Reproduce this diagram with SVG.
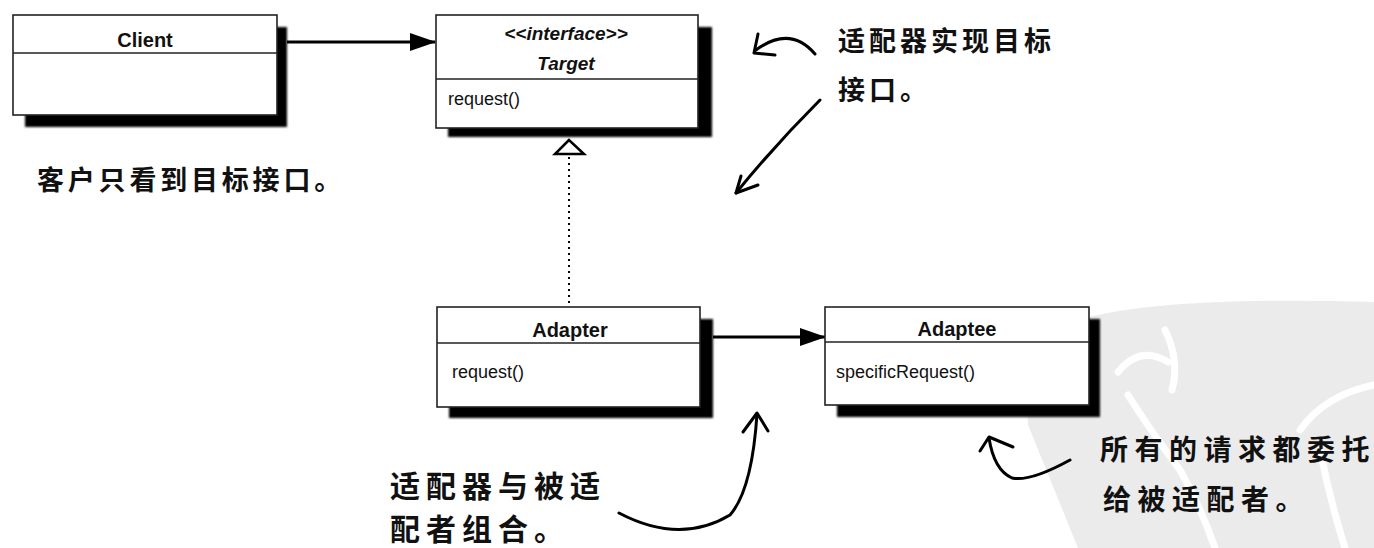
<svg xmlns="http://www.w3.org/2000/svg" width="1374" height="548" viewBox="0 0 1374 548">
<defs>
<style>
.box{fill:#fff;stroke:#222;stroke-width:1.6}
.div{stroke:#222;stroke-width:1.6}
.shadow{fill:#000;filter:url(#blur)}
.name{font-family:"Liberation Sans",Arial,sans-serif;font-weight:bold;font-size:20px;fill:#111;text-anchor:middle}
.iname{font-family:"Liberation Sans",Arial,sans-serif;font-weight:bold;font-style:italic;font-size:19px;fill:#111;text-anchor:middle}
.meth{font-family:"Liberation Sans",Arial,sans-serif;font-size:18px;fill:#111}
.hand{font-family:"Noto Sans CJK SC","Noto Sans CJK TC",sans-serif;font-weight:bold;fill:#111}
.conn{stroke:#000;stroke-width:3;fill:none}
.dot{stroke:#000;stroke-width:2;fill:none;stroke-dasharray:2 4}
.sketch{stroke:#000;stroke-width:3;fill:none;stroke-linecap:round;stroke-linejoin:round}
</style>
<filter id="blur" x="-5%" y="-5%" width="110%" height="110%"><feGaussianBlur stdDeviation="1.2"/></filter>
<marker id="filled" markerWidth="26" markerHeight="18" refX="25" refY="9" orient="auto" markerUnits="userSpaceOnUse"><path d="M0,0 L26,9 L0,18 Z" fill="#000"/></marker>
</defs>
<rect width="1374" height="548" fill="#fff"/>
<g id="watermark">
<path d="M1078,548 L1028,425 Q1022,345 1085,318 Q1170,296 1374,302 L1374,548 Z" fill="#ebebeb"/>
<g stroke="#fff" stroke-width="7" fill="none" stroke-linecap="round">
<path d="M1118,372 Q1140,345 1168,362"/>
<path d="M1128,395 Q1150,430 1180,470 Q1200,505 1215,548"/>
<path d="M1165,330 Q1180,360 1172,390"/>
<path d="M1300,430 Q1325,395 1374,385"/>
<path d="M1320,450 Q1330,500 1345,548"/>
</g>
</g>
<g id="connectors">
<line class="conn" x1="287" y1="42" x2="435" y2="42" marker-end="url(#filled)"/>
<line class="dot" x1="569" y1="157" x2="569" y2="306"/>
<path d="M569,140 L555,154 L584,154 Z" fill="#fff" stroke="#000" stroke-width="2.5"/>
<line class="conn" x1="713" y1="337" x2="825" y2="337" marker-end="url(#filled)"/>
</g>
<g id="client">
<rect class="shadow" x="25" y="27" width="262" height="100"/>
<rect class="box" x="13" y="15" width="264" height="100"/>
<line class="div" x1="13" y1="53" x2="277" y2="53"/>
<text class="name" x="145" y="47">Client</text>
</g>
<g id="target">
<rect class="shadow" x="448" y="27" width="264" height="110"/>
<rect class="box" x="436" y="15" width="262" height="113"/>
<line class="div" x1="436" y1="79" x2="698" y2="79"/>
<text class="iname" x="566" y="40">&lt;&lt;interface&gt;&gt;</text>
<text class="iname" x="566" y="70">Target</text>
<text class="meth" x="448" y="105">request()</text>
</g>
<g id="adapter">
<rect class="shadow" x="449" y="319" width="264" height="99"/>
<rect class="box" x="437" y="307" width="263" height="100"/>
<line class="div" x1="437" y1="343" x2="700" y2="343"/>
<text class="name" x="570" y="337">Adapter</text>
<text class="meth" x="452" y="378">request()</text>
</g>
<g id="adaptee">
<rect class="shadow" x="837" y="319" width="263" height="98"/>
<rect class="box" x="825" y="307" width="264" height="98"/>
<line class="div" x1="825" y1="342" x2="1089" y2="342"/>
<text class="name" x="957" y="336">Adaptee</text>
<text class="meth" x="836" y="378">specificRequest()</text>
</g>
<g id="note-client">
<text class="hand" x="37" y="190" font-size="27" letter-spacing="3.8">客户只看到目标接口。</text>
</g>
<g id="note-target">
<text class="hand" x="838" y="51" font-size="27" letter-spacing="4">适配器实现目标</text>
<text class="hand" x="838" y="100" font-size="27" letter-spacing="4">接口。</text>
<path class="sketch" d="M815,54 Q790,25 756,50"/>
<path class="sketch" d="M758,34 L754,53 L775,55"/>
<path class="sketch" d="M820,100 Q775,145 736,193"/>
<path class="sketch" d="M741,176 L736,193 L758,185"/>
</g>
<g id="note-adapter">
<text class="hand" x="390" y="497" font-size="30" letter-spacing="6">适配器与被适</text>
<text class="hand" x="390" y="540" font-size="30" letter-spacing="6">配者组合。</text>
<path class="sketch" d="M619,513 Q680,545 730,515 Q752,490 757,414"/>
<path class="sketch" d="M743,432 L757,413 L768,431"/>
</g>
<g id="note-adaptee">
<text class="hand" x="1100" y="460" font-size="28" letter-spacing="6.5">所有的请求都委托</text>
<text class="hand" x="1103" y="510" font-size="28" letter-spacing="6.5">给被适配者。</text>
<path class="sketch" d="M1070,460 Q1030,482 1012,478 Q994,470 989,438"/>
<path class="sketch" d="M980,451 L989,437 L1013,447"/>
</g>
</svg>
